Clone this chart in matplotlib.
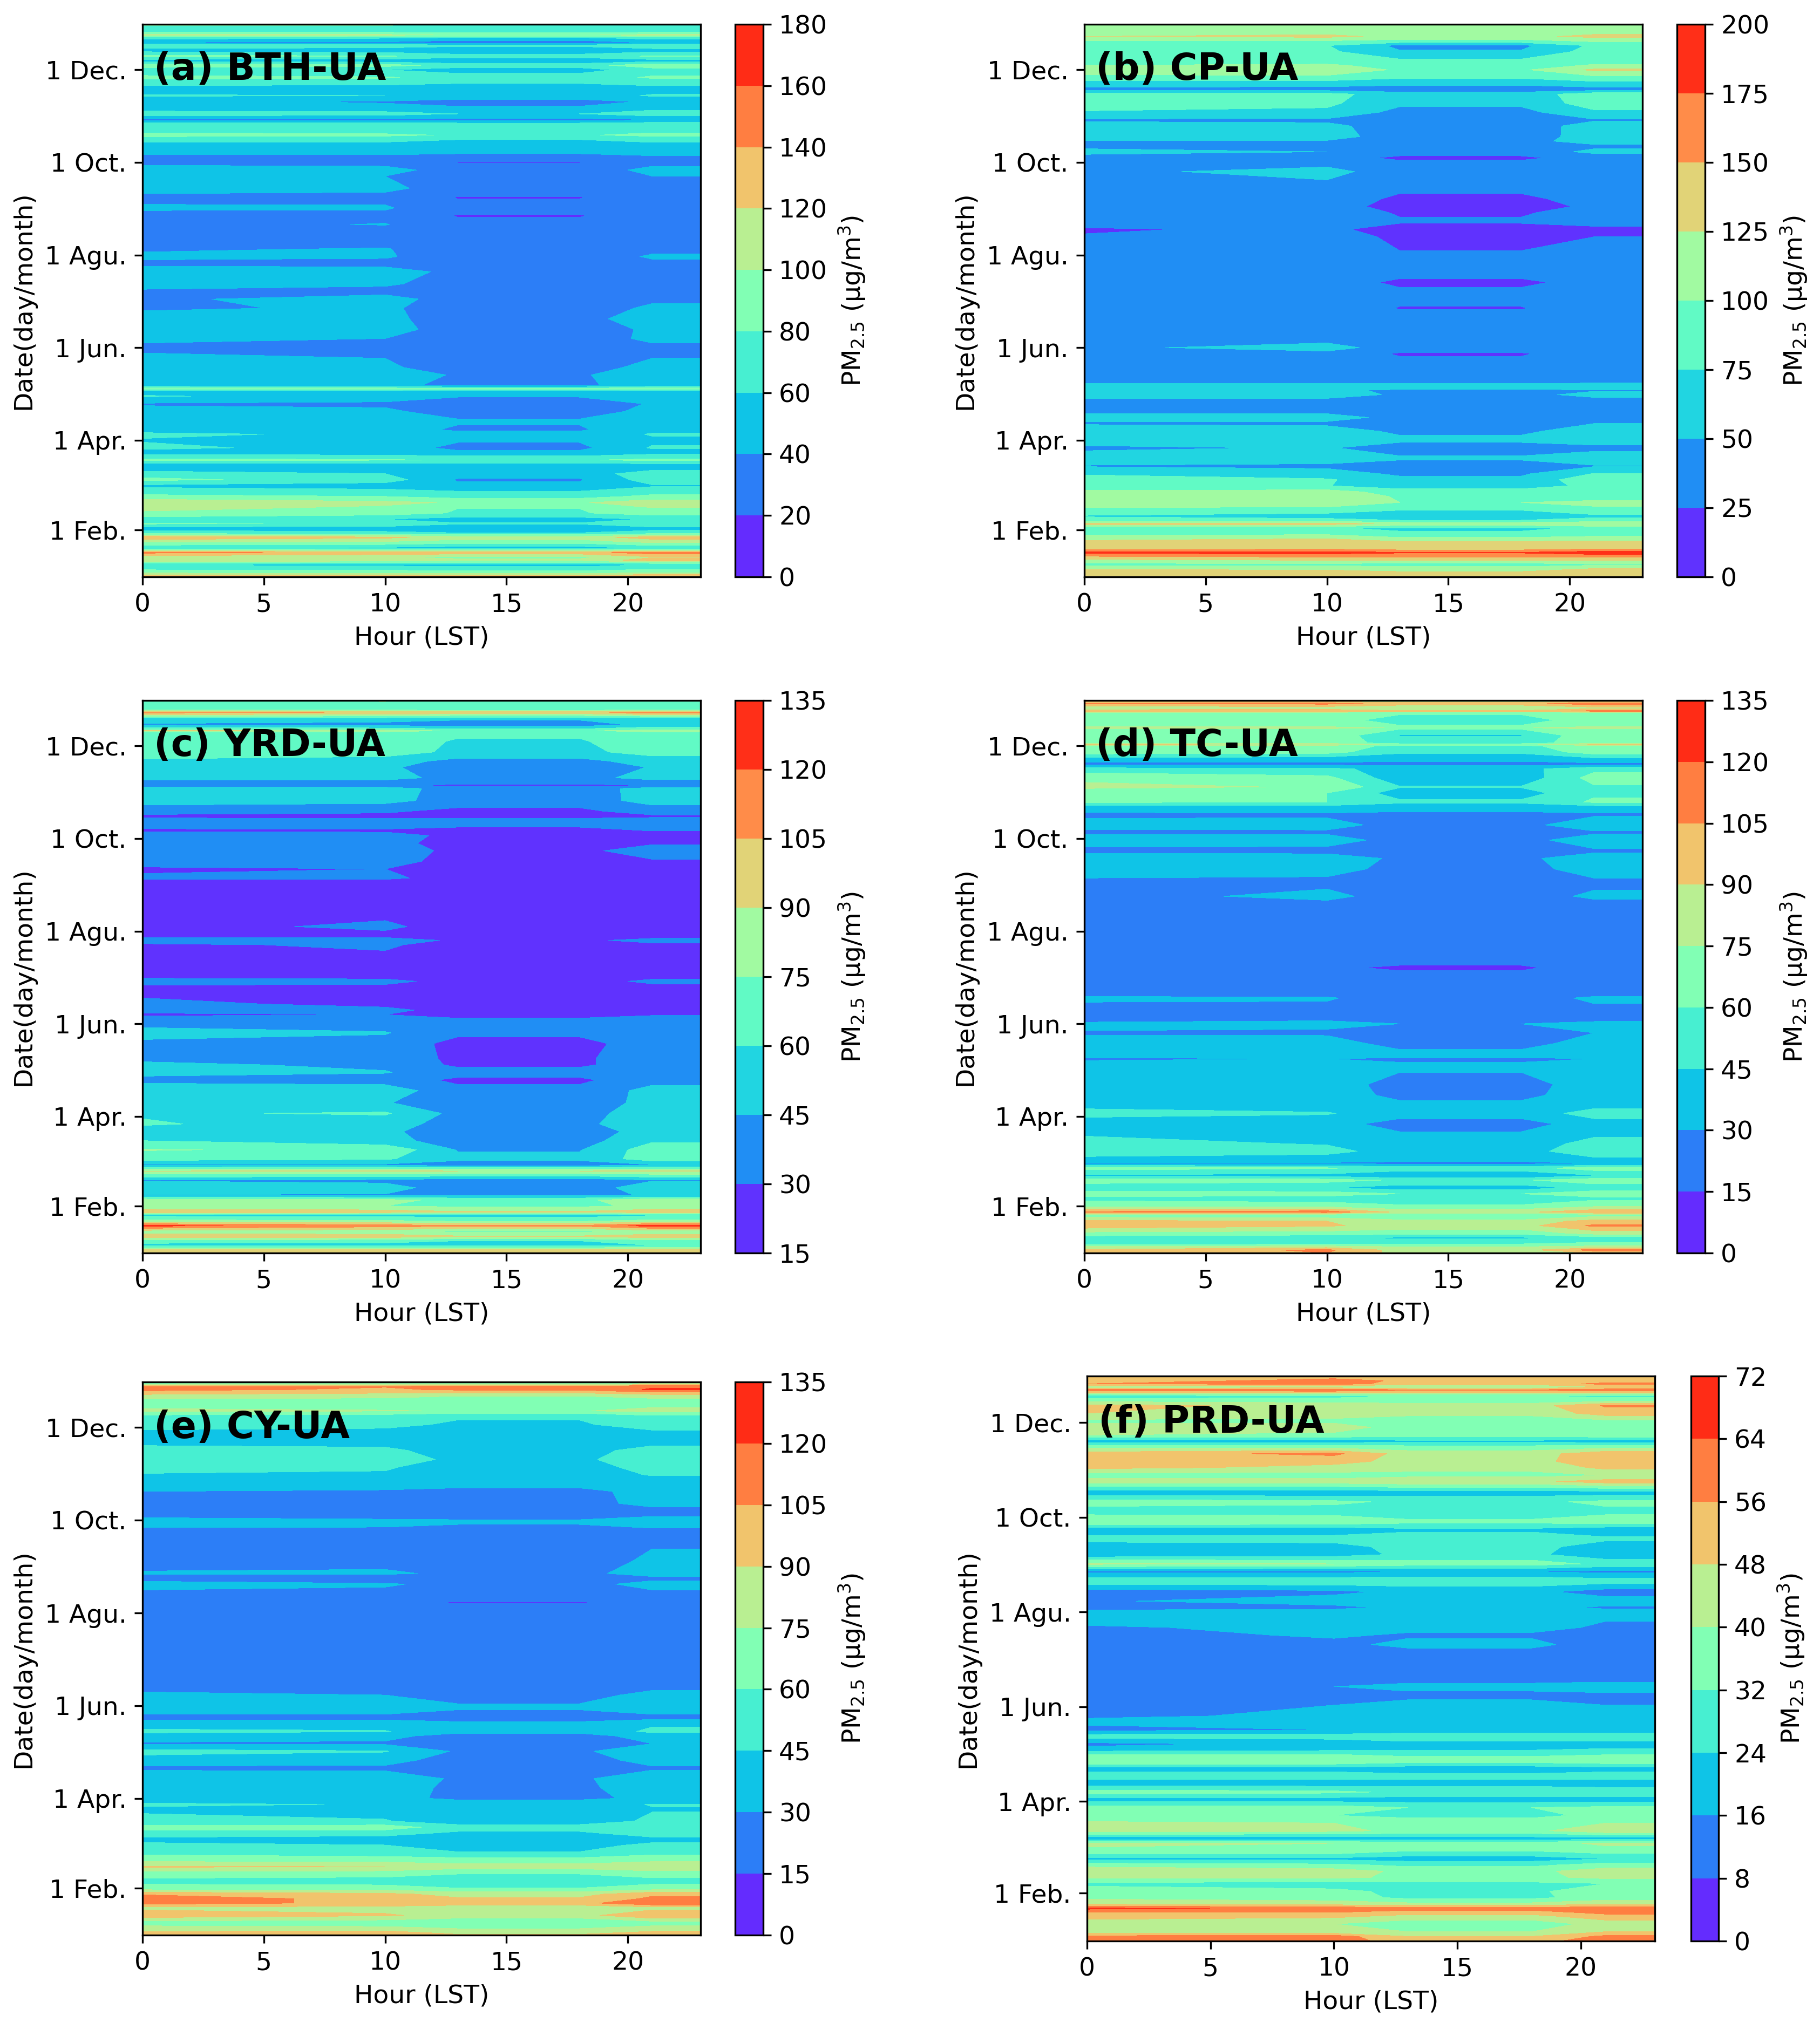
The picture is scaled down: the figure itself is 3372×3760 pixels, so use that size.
import numpy as np
import matplotlib
matplotlib.use("Agg")

import matplotlib.pyplot as plt

W, H = 3372, 3760

# night / morning / afternoon plateau (13-18 h) / evening (21-23 h)
HOURS = [0, 10, 13, 18, 21, 23]
DATE_TICKS = [31, 90, 151, 212, 273, 334]
DATE_LABELS = ["1 Feb.", "1 Apr.", "1 Jun.", "1 Agu.", "1 Oct.", "1 Dec."]

# each row: day of year, night, morning, afternoon, evening PM2.5
BTH = [
    [0, 128, 125, 125, 135], [1, 125, 122, 120, 130], [3, 92, 90, 88, 95], [6, 70, 68, 65, 72],
    [8, 58, 55, 52, 60], [11, 118, 112, 105, 130], [13, 108, 102, 95, 118], [16, 145, 135, 132, 150],
    [19, 60, 55, 50, 62], [23, 102, 98, 90, 105], [26, 135, 125, 110, 130], [29, 70, 65, 60, 70],
    [32, 50, 48, 42, 52], [35, 82, 78, 62, 80], [38, 70, 60, 52, 62], [42, 96, 90, 78, 90],
    [45, 105, 95, 80, 98], [49, 116, 105, 98, 112], [53, 85, 80, 72, 85], [56, 72, 68, 62, 72],
    [60, 55, 50, 44, 58], [64, 85, 70, 38, 70], [68, 70, 60, 48, 72], [73, 40, 42, 42, 45],
    [77, 86, 82, 78, 85], [82, 50, 48, 44, 52], [85, 66, 50, 35, 62], [90, 58, 52, 42, 56],
    [94, 65, 55, 44, 62], [97, 50, 46, 38, 52], [103, 50, 47, 42, 50], [109, 46, 44, 30, 46],
    [114, 38, 36, 26, 42], [119, 62, 52, 42, 55], [122, 52, 48, 40, 50], [124, 92, 90, 88, 92],
    [126, 50, 44, 36, 50], [133, 55, 50, 38, 50], [138, 46, 42, 34, 44], [144, 42, 40, 28, 40],
    [151, 38, 36, 25, 36], [157, 42, 40, 30, 44], [163, 50, 45, 34, 42], [170, 46, 42, 36, 46],
    [177, 38, 42, 34, 42], [183, 38, 45, 34, 38], [188, 38, 36, 30, 36], [193, 45, 42, 34, 40],
    [201, 52, 50, 34, 40], [206, 36, 34, 30, 36], [211, 43, 42, 30, 42], [216, 38, 41, 30, 36],
    [225, 28, 28, 21, 30], [228, 30, 28, 25, 32], [232, 34, 41, 24, 30], [238, 36, 35, 19, 30],
    [243, 42, 42, 26, 32], [250, 36, 35, 19, 32], [256, 46, 44, 32, 38], [264, 42, 40, 30, 40],
    [268, 48, 46, 32, 44], [273, 35, 34, 19, 36], [277, 35, 35, 32, 38], [280, 50, 50, 46, 52],
    [285, 55, 55, 50, 56], [288, 68, 66, 60, 66], [291, 86, 84, 78, 85], [295, 70, 66, 62, 72],
    [298, 78, 76, 72, 78], [301, 36, 36, 34, 38], [305, 70, 68, 60, 72], [309, 48, 46, 42, 52],
    [313, 44, 38, 34, 42], [317, 62, 60, 50, 62], [322, 48, 44, 42, 50], [325, 70, 68, 60, 70],
    [329, 84, 82, 72, 82], [334, 68, 60, 50, 72], [337, 92, 88, 72, 92], [340, 50, 48, 42, 52],
    [343, 86, 82, 70, 82], [347, 50, 46, 40, 50], [350, 78, 74, 66, 80], [352, 38, 36, 28, 42],
    [355, 68, 62, 56, 68], [357, 106, 104, 98, 105], [360, 62, 62, 58, 62], [362, 76, 74, 70, 74],
    [364, 84, 84, 80, 82],
]

CP = [
    [0, 132, 140, 135, 150], [1, 130, 135, 130, 145], [3, 140, 132, 128, 150], [6, 115, 118, 110, 120],
    [8, 90, 92, 85, 95], [12, 130, 138, 140, 140], [16, 182, 186, 178, 190], [19, 130, 138, 130, 138],
    [23, 132, 142, 128, 132], [26, 112, 118, 100, 105], [29, 86, 88, 78, 85], [32, 80, 78, 70, 80],
    [35, 135, 138, 118, 125], [37, 90, 90, 78, 88], [40, 72, 60, 50, 68], [44, 96, 92, 76, 96],
    [49, 108, 112, 100, 104], [53, 115, 122, 96, 92], [56, 106, 112, 88, 86], [60, 80, 76, 62, 82],
    [64, 86, 78, 56, 92], [68, 72, 60, 46, 76], [73, 48, 45, 36, 48], [78, 66, 62, 54, 66],
    [85, 44, 52, 38, 42], [90, 66, 68, 55, 64], [96, 62, 60, 46, 60], [101, 48, 46, 38, 50],
    [105, 55, 58, 44, 46], [110, 45, 42, 40, 44], [117, 47, 46, 44, 46], [120, 70, 68, 44, 56],
    [123, 60, 55, 46, 48], [125, 66, 64, 62, 66], [129, 40, 40, 42, 42], [137, 48, 50, 40, 44],
    [147, 42, 44, 22, 42], [151, 46, 58, 40, 44], [158, 36, 40, 35, 38], [164, 42, 44, 38, 40],
    [177, 38, 38, 24, 36], [186, 40, 40, 32, 38], [194, 40, 38, 20, 34], [201, 38, 38, 34, 38],
    [213, 38, 36, 26, 36], [224, 27, 36, 20, 25], [229, 22, 30, 15, 18], [234, 38, 36, 28, 36],
    [240, 42, 42, 22, 36], [244, 40, 38, 14, 30], [249, 40, 40, 20, 34], [256, 42, 44, 30, 40],
    [267, 46, 56, 40, 42], [272, 42, 46, 36, 42], [276, 42, 40, 18, 40], [280, 56, 50, 40, 54],
    [284, 44, 46, 40, 46], [287, 48, 48, 42, 60], [290, 70, 60, 38, 60], [297, 60, 55, 40, 58],
    [301, 46, 46, 44, 48], [306, 72, 70, 42, 70], [312, 90, 80, 55, 88], [318, 86, 84, 60, 90],
    [321, 40, 40, 38, 40], [325, 64, 62, 55, 65], [330, 96, 98, 85, 100], [334, 118, 120, 96, 130],
    [337, 100, 104, 90, 102], [340, 92, 88, 80, 92], [346, 88, 80, 52, 85], [350, 78, 76, 44, 80],
    [353, 100, 98, 92, 104], [356, 125, 132, 118, 132], [359, 112, 114, 108, 116], [361, 118, 122, 104, 114],
    [364, 106, 112, 104, 104],
]

YRD = [
    [0, 92, 96, 90, 96], [2, 96, 96, 92, 98], [5, 55, 55, 56, 60], [8, 66, 64, 60, 68],
    [11, 102, 100, 92, 100], [14, 80, 78, 72, 78], [18, 124, 112, 108, 126], [21, 80, 78, 74, 80],
    [25, 55, 54, 52, 58], [27, 100, 98, 92, 100], [31, 78, 75, 72, 78], [35, 82, 78, 72, 84],
    [38, 44, 44, 42, 46], [43, 52, 50, 38, 52], [48, 44, 42, 36, 44], [54, 90, 92, 90, 92],
    [58, 42, 42, 38, 44], [62, 66, 62, 48, 68], [68, 76, 72, 44, 68], [74, 60, 50, 38, 58],
    [80, 52, 48, 36, 52], [85, 62, 50, 40, 58], [92, 58, 62, 40, 52], [99, 50, 46, 36, 50],
    [107, 56, 54, 34, 50], [114, 40, 38, 27, 40], [119, 50, 46, 36, 44], [124, 48, 42, 27, 40],
    [128, 42, 38, 27, 40], [138, 42, 40, 25, 38], [145, 50, 46, 33, 36], [152, 40, 38, 36, 38],
    [157, 28, 30, 25, 29], [160, 34, 32, 27, 30], [164, 32, 28, 25, 28], [174, 27, 26, 22, 26],
    [179, 33, 33, 26, 32], [183, 27, 25, 24, 26], [188, 25, 24, 22, 26], [203, 28, 32, 24, 28],
    [206, 36, 36, 28, 33], [209, 26, 26, 24, 26], [215, 25, 33, 23, 25], [227, 25, 24, 22, 24],
    [234, 27, 26, 22, 26], [245, 26, 25, 22, 26], [247, 32, 34, 22, 26], [253, 28, 30, 22, 28],
    [258, 36, 35, 25, 28], [265, 40, 38, 26, 38], [270, 36, 34, 25, 28], [275, 38, 36, 26, 28],
    [278, 28, 28, 26, 30], [283, 35, 36, 34, 37], [288, 28, 27, 28, 28], [291, 35, 32, 26, 38],
    [298, 52, 50, 38, 50], [306, 56, 54, 36, 52], [308, 30, 32, 28, 30], [313, 52, 50, 40, 50],
    [320, 50, 48, 35, 46], [324, 56, 52, 40, 52], [330, 72, 68, 56, 66], [337, 72, 70, 58, 72],
    [343, 70, 68, 64, 70], [344, 94, 90, 70, 90], [345, 70, 68, 62, 70], [348, 42, 40, 36, 50],
    [352, 56, 52, 48, 50], [356, 108, 104, 100, 112], [358, 72, 70, 66, 72], [361, 74, 72, 68, 74],
    [364, 74, 76, 72, 74],
]

TC = [
    [0, 95, 105, 85, 90], [2, 92, 108, 84, 112], [4, 80, 85, 76, 82], [6, 55, 56, 60, 62],
    [10, 52, 48, 42, 54], [13, 70, 68, 66, 80], [18, 100, 92, 84, 108], [21, 94, 90, 80, 96],
    [25, 64, 62, 58, 68], [27, 108, 114, 86, 102], [31, 70, 68, 62, 72], [36, 55, 52, 50, 56],
    [39, 68, 68, 60, 70], [43, 50, 46, 38, 50], [48, 68, 66, 58, 70], [51, 42, 40, 32, 44],
    [56, 66, 62, 54, 68], [59, 28, 28, 26, 30], [62, 40, 38, 36, 42], [67, 56, 50, 38, 56],
    [72, 50, 44, 34, 52], [78, 44, 40, 33, 42], [85, 40, 38, 22, 40], [92, 48, 46, 38, 50],
    [97, 43, 40, 35, 42], [104, 43, 40, 25, 40], [111, 42, 40, 22, 40], [121, 40, 38, 32, 38],
    [128, 28, 30, 29, 30], [131, 38, 38, 34, 38], [138, 38, 36, 25, 36], [145, 28, 28, 27, 30],
    [151, 36, 33, 30, 36], [153, 25, 30, 30, 28], [157, 24, 26, 26, 26], [168, 32, 31, 25, 32],
    [172, 24, 24, 22, 24], [188, 16, 16, 14, 18], [194, 22, 22, 18, 22], [203, 22, 24, 22, 22],
    [210, 25, 30, 24, 22], [227, 22, 24, 22, 24], [235, 26, 33, 25, 32], [243, 28, 28, 22, 28],
    [247, 30, 29, 24, 30], [253, 38, 36, 25, 36], [260, 38, 36, 28, 35], [265, 26, 26, 24, 28],
    [272, 38, 36, 25, 38], [277, 27, 28, 26, 28], [282, 35, 34, 26, 38], [289, 27, 28, 27, 28],
    [294, 40, 40, 36, 40], [297, 62, 60, 48, 62], [303, 66, 60, 38, 58], [307, 78, 74, 46, 58],
    [313, 72, 64, 35, 66], [319, 50, 48, 40, 56], [322, 25, 26, 25, 26], [326, 42, 40, 36, 44],
    [330, 68, 66, 48, 68], [334, 70, 68, 56, 70], [335, 92, 88, 70, 92], [336, 70, 70, 52, 70],
    [341, 72, 72, 44, 72], [345, 70, 68, 60, 72], [346, 90, 86, 72, 90], [347, 70, 70, 62, 72],
    [351, 72, 70, 50, 72], [356, 70, 72, 64, 74], [357, 100, 102, 94, 110], [359, 78, 80, 74, 84],
    [362, 108, 110, 100, 114], [364, 74, 76, 70, 78],
]

CY = [
    [0, 100, 105, 92, 98], [1, 95, 100, 88, 96], [5, 80, 78, 72, 80], [8, 66, 64, 60, 66],
    [13, 100, 92, 84, 105], [18, 86, 84, 78, 84], [21, 110, 102, 100, 118], [24, 120, 96, 92, 108],
    [27, 102, 94, 84, 102], [31, 64, 64, 60, 64], [36, 56, 54, 50, 56], [41, 70, 68, 62, 68],
    [45, 92, 90, 82, 90], [49, 72, 70, 68, 72], [54, 56, 52, 48, 56], [59, 60, 46, 30, 56],
    [62, 36, 36, 38, 38], [67, 55, 50, 42, 52], [71, 65, 68, 52, 58], [75, 50, 46, 36, 48],
    [83, 42, 40, 35, 44], [86, 48, 44, 36, 46], [90, 35, 33, 28, 32], [97, 42, 40, 25, 42],
    [103, 40, 38, 28, 38], [110, 27, 27, 25, 28], [115, 38, 36, 22, 36], [121, 50, 46, 28, 38],
    [126, 28, 28, 26, 30], [131, 38, 34, 24, 36], [134, 48, 46, 34, 48], [138, 40, 40, 36, 44],
    [143, 26, 26, 24, 26], [150, 38, 38, 32, 38], [158, 32, 30, 25, 34], [164, 26, 26, 24, 26],
    [171, 22, 24, 24, 24], [182, 28, 28, 24, 26], [197, 16, 15, 18, 22], [207, 22, 22, 24, 24],
    [217, 22, 22, 22, 22], [219, 20, 20, 13, 22], [221, 22, 22, 22, 22], [231, 35, 32, 25, 35],
    [235, 24, 16, 20, 26], [238, 32, 34, 25, 38], [246, 22, 22, 22, 33], [265, 26, 26, 24, 26],
    [272, 35, 34, 32, 36], [279, 22, 18, 22, 24], [284, 28, 26, 24, 35], [292, 30, 28, 25, 36],
    [297, 40, 38, 36, 38], [303, 44, 42, 38, 46], [308, 50, 48, 32, 56], [313, 58, 56, 40, 60],
    [319, 55, 50, 34, 56], [325, 36, 36, 33, 34], [328, 32, 34, 32, 32], [336, 55, 50, 42, 56],
    [342, 58, 56, 48, 60], [345, 78, 76, 74, 80], [351, 66, 64, 60, 66], [355, 85, 82, 76, 82],
    [359, 110, 102, 108, 122], [361, 108, 106, 112, 118], [363, 66, 68, 72, 74], [364, 70, 72, 72, 74],
]

PRD = [
    [0, 56, 60, 52, 62], [3, 58, 60, 48, 58], [6, 44, 42, 40, 48], [11, 42, 40, 34, 44],
    [16, 52, 50, 46, 52], [18, 54, 55, 50, 58], [21, 66, 62, 60, 62], [24, 46, 44, 42, 46],
    [28, 38, 36, 30, 36], [32, 36, 34, 30, 38], [37, 30, 28, 30, 32], [41, 42, 42, 38, 42],
    [45, 48, 44, 38, 44], [49, 36, 34, 30, 36], [53, 22, 22, 20, 24], [58, 38, 38, 32, 36],
    [63, 42, 40, 36, 42], [66, 18, 18, 20, 20], [71, 44, 42, 38, 46], [76, 42, 40, 36, 40],
    [81, 32, 32, 30, 34], [86, 36, 36, 32, 34], [91, 20, 20, 20, 20], [96, 36, 34, 30, 30],
    [102, 18, 18, 20, 18], [106, 30, 30, 28, 30], [111, 20, 20, 18, 20], [116, 40, 40, 36, 38],
    [119, 36, 36, 32, 34], [124, 18, 20, 22, 24], [127, 14, 18, 22, 22], [132, 28, 28, 28, 28],
    [136, 14, 16, 20, 20], [142, 18, 22, 22, 18], [145, 14, 18, 20, 18], [152, 14, 16, 20, 16],
    [158, 12, 13, 13, 14], [164, 14, 16, 19, 20], [169, 11, 11, 12, 13], [183, 10, 10, 11, 10],
    [191, 12, 14, 18, 12], [197, 13, 17, 15, 13], [202, 15, 18, 18, 15], [206, 18, 18, 20, 16],
    [210, 20, 22, 24, 20], [215, 14, 14, 18, 15], [219, 15, 20, 20, 20], [225, 12, 14, 18, 12],
    [232, 30, 30, 30, 28], [238, 14, 14, 16, 14], [243, 42, 40, 36, 30], [249, 18, 20, 26, 18],
    [254, 18, 20, 28, 18], [259, 28, 28, 30, 26], [265, 18, 18, 22, 18], [270, 40, 38, 34, 36],
    [277, 28, 28, 26, 30], [283, 36, 34, 30, 34], [289, 18, 18, 20, 20], [296, 44, 44, 46, 52],
    [300, 36, 36, 38, 40], [305, 50, 46, 42, 50], [309, 50, 50, 46, 52], [314, 52, 58, 44, 54],
    [318, 38, 38, 36, 38], [322, 20, 20, 22, 20], [326, 40, 38, 36, 38], [331, 44, 44, 36, 36],
    [335, 38, 38, 36, 38], [340, 48, 44, 42, 52], [345, 50, 46, 44, 57], [348, 38, 36, 36, 38],
    [351, 26, 30, 32, 30], [355, 62, 62, 58, 60], [357, 40, 42, 38, 48], [359, 56, 60, 52, 58],
    [361, 50, 60, 54, 52], [363, 54, 54, 54, 54], [364, 52, 52, 52, 52],
]

PANELS = [
    ("(a) BTH-UA", BTH, (0, 180, 20), (264, 45, 1298, 1069), (1362, 1414)),
    ("(b) CP-UA", CP, (0, 200, 25), (2009, 45, 3043, 1069), (3107, 3159)),
    ("(c) YRD-UA", YRD, (15, 135, 15), (264, 1298, 1298, 2322), (1362, 1414)),
    ("(d) TC-UA", TC, (0, 135, 15), (2009, 1298, 3043, 2322), (3107, 3159)),
    ("(e) CY-UA", CY, (0, 135, 15), (264, 2561, 1298, 3586), (1362, 1414)),
    ("(f) PRD-UA", PRD, (0, 72, 8), (2014, 2550, 3066, 3597), (3133, 3184)),
]


def px_axes(fig, x0, y0, x1, y1):
    # pixel box measured from the top-left of the image
    return fig.add_axes([x0 / W, 1 - y1 / H, (x1 - x0) / W, (y1 - y0) / H])


def main():
    plt.rcParams["font.family"] = "DejaVu Sans"
    plt.rcParams["font.size"] = 11.3
    fig = plt.figure(figsize=(W / 300, H / 300), dpi=300)

    for title, rows, (lo, hi, step), box, (cx0, cx1) in PANELS:
        rows = np.array(rows, dtype=float)
        levels = np.arange(lo, hi + step, step)
        # afternoon and evening values hold over two hours of HOURS each
        pm = rows[:, [1, 2, 3, 3, 4, 4]]

        ax = px_axes(fig, *box)
        cs = ax.contourf(HOURS, rows[:, 0], pm, levels=levels,
                         cmap="rainbow", vmin=lo, vmax=hi)
        ax.set_xlim(0, 23)
        ax.set_ylim(0, 364)
        ax.set_xticks([0, 5, 10, 15, 20])
        ax.set_yticks(DATE_TICKS)
        ax.set_yticklabels(DATE_LABELS)
        ax.set_xlabel("Hour (LST)")
        ax.set_ylabel("Date(day/month)")
        ax.text(0.02, 0.918, title, transform=ax.transAxes, fontsize=16.7,
                fontweight="bold", va="center", ha="left")

        cax = px_axes(fig, cx0, box[1], cx1, box[3])
        cb = fig.colorbar(cs, cax=cax, ticks=levels)
        cb.set_label(r"PM$_{2.5}$ ($\mathrm{\mu}$g/m$^3$)")

    fig.savefig("out.png", dpi=300)


if __name__ == "__main__":
    main()
